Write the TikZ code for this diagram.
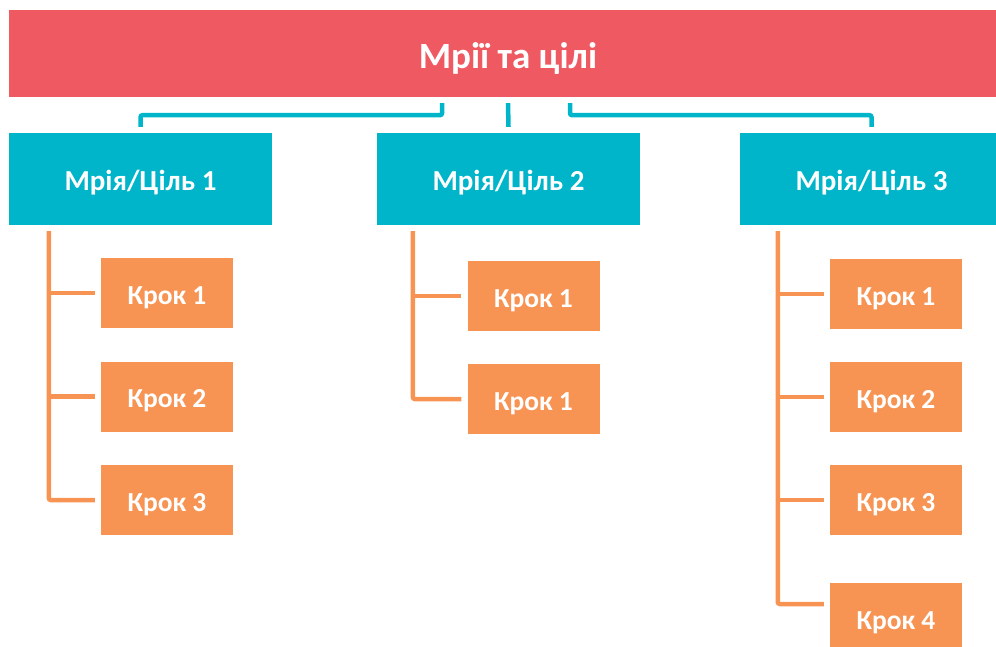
\documentclass[tikz,border=0pt]{standalone}
\usepackage{fontspec}
\setmainfont{Carlito}
\usetikzlibrary{positioning, calc}

\definecolor{dreamred}{RGB}{239,90,98}
\definecolor{goalteal}{RGB}{0,181,202}
\definecolor{steporange}{RGB}{247,148,83}

\begin{document}
\begin{tikzpicture}[x=1pt, y=-1pt]
    % Define styles
    \tikzstyle{title} = [rectangle, fill=dreamred, minimum width=998pt, minimum height=87pt, inner sep=0pt, text height=30pt, text depth=0pt, text=white, font=\fontsize{37}{40}\selectfont\bfseries]
    \tikzstyle{goal} = [rectangle, fill=goalteal, minimum width=263pt, minimum height=92pt, inner sep=0pt, text height=24pt, text depth=0pt, text=white, font=\fontsize{29}{31}\selectfont\bfseries]
    \tikzstyle{stepbox} = [rectangle, fill=steporange, minimum width=132pt, minimum height=70pt, inner sep=0pt, text height=22pt, text depth=0pt, text=white, font=\fontsize{27.5}{30}\selectfont\bfseries]
    \tikzstyle{goallink} = [draw=goalteal, line width=4.5pt, rounded corners=2pt]
    \tikzstyle{steplink} = [draw=steporange, line width=4.5pt, rounded corners=2pt]

    \useasboundingbox (0,0) rectangle (996,647);
    \clip (0,0) rectangle (996,647);

    % Header
    \node[title] (dreams) at (508, 53.5) {Мрії та цілі};

    % Goals
    \node[goal] (goal1) at (140.5, 179) {Мрія/Ціль 1};
    \node[goal] (goal2) at (508.5, 179) {Мрія/Ціль 2};
    \node[goal] (goal3) at (871.5, 179) {Мрія/Ціль 3};

    % Steps
    \node[stepbox] (s11) at (167, 293) {Крок 1};
    \node[stepbox] (s12) at (167, 396.5) {Крок 2};
    \node[stepbox] (s13) at (167, 500) {Крок 3};

    \node[stepbox] (s21) at (533.5, 296) {Крок 1};
    \node[stepbox] (s22) at (533.5, 399) {Крок 1};

    \node[stepbox] (s31) at (896, 294) {Крок 1};
    \node[stepbox] (s32) at (896, 397) {Крок 2};
    \node[stepbox] (s33) at (896, 500) {Крок 3};
    \node[stepbox] (s34) at (896, 618) {Крок 4};

    % Header to goals
    \draw[goallink] ($(dreams.south)+(-66,6)$) -- ++(0,12) -| ($(goal1.north)+(0,-6)$);
    \draw[goallink] ($(dreams.south)+(0,6)$) -- ($(goal2.north)+(0,-6)$);
    \draw[goallink] ($(dreams.south)+(62,6)$) -- ++(0,12) -| ($(goal3.north)+(0,-6)$);

    % Goals to steps
    \coordinate (t1) at ($(goal1.south west)+(40,6)$);
    \coordinate (t2) at ($(goal2.south west)+(36,6)$);
    \coordinate (t3) at ($(goal3.south west)+(38,6)$);

    \draw[steplink] (t1) |- ($(s13.west)+(-6,0)$);
    \draw[steplink] (t2) |- ($(s22.west)+(-6,0)$);
    \draw[steplink] (t3) |- ($(s34.west)+(-6,-14)$);

    \foreach \s/\t in {s11/t1, s12/t1, s21/t2, s31/t3, s32/t3, s33/t3}
        \draw[steplink] (\t |- \s.west) -- ($(\s.west)+(-6,0)$);
\end{tikzpicture}
\end{document}
